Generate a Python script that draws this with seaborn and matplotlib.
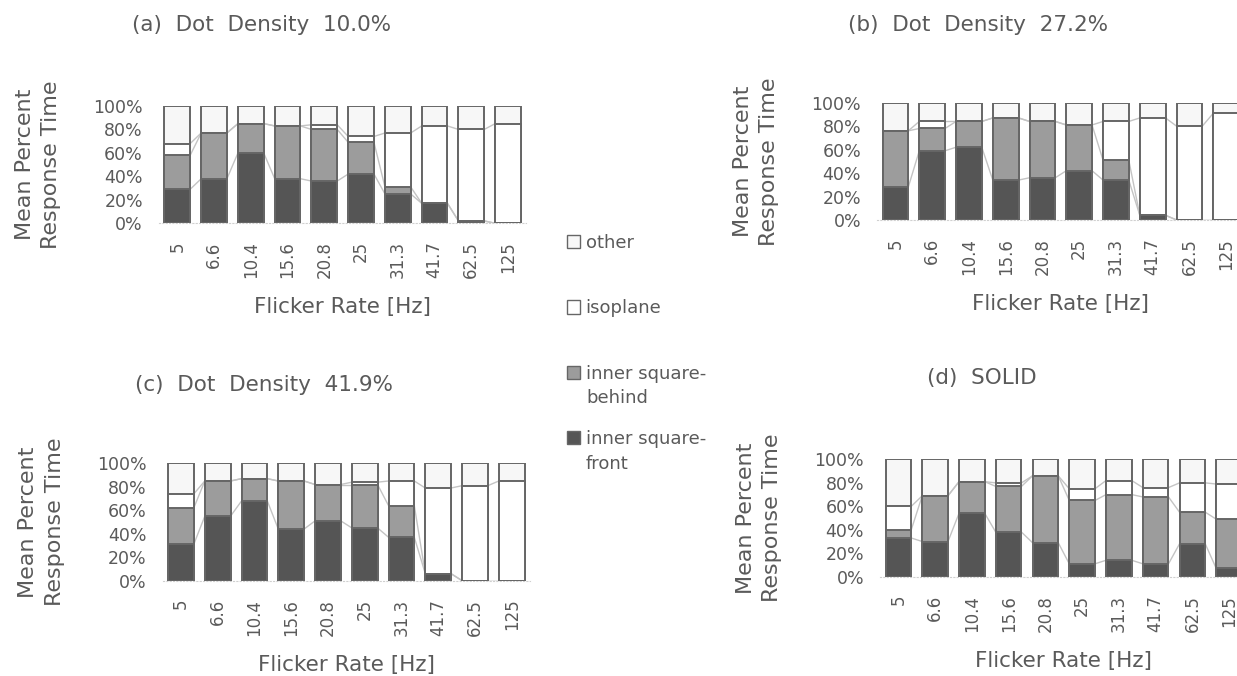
import matplotlib
matplotlib.use("Agg")
import matplotlib.pyplot as plt
from matplotlib.patches import Patch
import numpy as np
import pandas as pd
import seaborn as sns

# flicker rates shared by all panels
rates = ["5", "6.6", "10.4", "15.6", "20.8", "25", "31.3", "41.7", "62.5", "125"]

# percent of response time per category (other = rest up to 100)
front_a = [29, 38, 60, 38, 36, 42, 25, 17, 2, 0]
behind_a = [29, 39, 25, 45, 44, 27, 6, 0, 0, 0]
iso_a = [10, 0, 0, 0, 4, 5, 46, 66, 78, 85]

front_b = [28, 59, 62, 34, 36, 42, 34, 4, 0, 0]
behind_b = [48, 19, 22, 53, 48, 39, 17, 0, 0, 0]
iso_b = [0, 6, 0, 0, 0, 0, 33, 83, 80, 91]

front_c = [31, 55, 68, 44, 51, 45, 37, 6, 0, 0]
behind_c = [31, 30, 19, 41, 31, 37, 27, 0, 0, 0]
iso_c = [12, 0, 0, 0, 0, 2, 21, 73, 81, 85]

front_d = [33, 30, 54, 38, 29, 11, 14, 11, 28, 7]
behind_d = [7, 39, 27, 39, 57, 54, 56, 57, 27, 42]
iso_d = [20, 0, 0, 3, 0, 10, 12, 8, 25, 30]

titles = ["(a)  Dot  Density  10.0%", "(b)  Dot  Density  27.2%",
          "(c)  Dot  Density  41.9%", "(d)  SOLID"]
legend_labels = ["other", "isoplane", "inner square-", "inner square-"]
legend_second = ["behind", "front"]

TXT = "#5a5a5a"
EDGE = "#666666"
C_FRONT = "#555555"
C_BEHIND = "#9c9c9c"
C_ISO = "#ffffff"
C_OTHER = "#f7f7f7"
C_LINK = "#c4c4c4"

sns.set_style("white")
plt.rcParams["font.family"] = ["DejaVu Sans"]
plt.rcParams["text.color"] = TXT
plt.rcParams["axes.labelcolor"] = TXT
plt.rcParams["xtick.color"] = TXT
plt.rcParams["ytick.color"] = TXT

fig = plt.figure(figsize=(12.37, 6.76), dpi=100)

W = 0.2971
H = 0.1735
rects = [(0.1285, 0.6697), (0.7090, 0.6746), (0.1314, 0.1410), (0.7114, 0.1469)]
title_pos = [(0.1067, 0.963), (0.6855, 0.963), (0.1090, 0.4305), (0.7494, 0.441)]

panels = [(front_a, behind_a, iso_a), (front_b, behind_b, iso_b),
          (front_c, behind_c, iso_c), (front_d, behind_d, iso_d)]

for k, (front, behind, iso) in enumerate(panels):
    df = pd.DataFrame({"rate": rates, "front": front,
                       "behind": behind, "iso": iso})
    df["cum_front"] = df["front"] / 100
    df["cum_behind"] = (df["front"] + df["behind"]) / 100
    df["cum_iso"] = (df["front"] + df["behind"] + df["iso"]) / 100
    df["total"] = 1.0

    ax = fig.add_axes([rects[k][0], rects[k][1], W, H])

    # overlapping cumulative bars give the stacked look
    for col, c in [("total", C_OTHER), ("cum_iso", C_ISO),
                   ("cum_behind", C_BEHIND), ("cum_front", C_FRONT)]:
        sns.barplot(data=df, x="rate", y=col, order=rates, color=c,
                    width=0.7, edgecolor=EDGE, linewidth=1.4,
                    saturation=1, ax=ax, zorder=3)

    # series lines between neighbouring bars
    for col in ["cum_front", "cum_behind", "cum_iso"]:
        v = df[col].values
        for i in range(len(v) - 1):
            ax.plot([i + 0.35, i + 0.65], [v[i], v[i + 1]],
                    color=C_LINK, lw=1.0, zorder=2)

    ax.set_xlim(-0.5, 9.5)
    ax.set_ylim(0, 1)
    ax.set_yticks(np.arange(0, 1.01, 0.2))
    ax.set_yticklabels([f"{int(round(t * 100))}%" for t in np.arange(0, 1.01, 0.2)])
    for s in ["top", "right", "left"]:
        ax.spines[s].set_visible(False)
    ax.spines["bottom"].set_color("#d0d0d0")
    ax.spines["bottom"].set_linestyle((0, (1, 2)))
    ax.tick_params(axis="y", length=0, pad=11.5, labelsize=12.5)
    ax.tick_params(axis="x", length=0, pad=13, labelsize=12, rotation=90)

    ax.set_xlabel("Flicker Rate [Hz]", fontsize=15.5)
    ax.xaxis.set_label_coords(0.5, -0.63)
    ax.set_ylabel("Mean Percent\nResponse Time", fontsize=16,
                  va="center", linespacing=1.4)
    ax.yaxis.set_label_coords(-0.329, 0.5)

    fig.text(title_pos[k][0], title_pos[k][1], titles[k], fontsize=15.5,
             ha="left", va="center")

colors = [C_OTHER, C_ISO, C_BEHIND, C_FRONT]
handles = [Patch(facecolor=c, edgecolor=EDGE, label=l)
           for c, l in zip(colors, legend_labels)]
fig.legend(handles=handles, loc="upper left", bbox_to_anchor=(0.445, 0.678),
           frameon=False, fontsize=13, handlelength=0.75, handleheight=0.75,
           handletextpad=0.3, labelspacing=2.62, labelcolor=TXT)
for txt, y in zip(legend_second, [398, 464]):
    fig.text(586 / 1237, 1 - y / 676, txt, fontsize=13, ha="left", va="center")

fig.savefig("out.png", dpi=100)
